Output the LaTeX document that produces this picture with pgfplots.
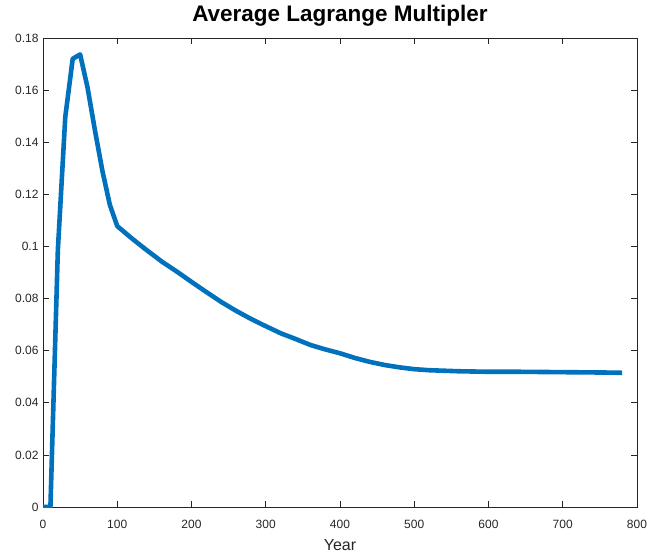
\documentclass[border=0pt]{standalone}
\usepackage{pgfplots}
\pgfplotsset{compat=1.18}
\usepackage{fontspec}
\setmainfont{Liberation Sans}
\definecolor{mblue}{RGB}{0,114,189}
\definecolor{axgray}{RGB}{38,38,38}
\begin{document}
\begin{tikzpicture}[x=1pt,y=1pt]
\begin{axis}[
  scale only axis,
  width=594pt, height=469pt,
  xmin=0, xmax=800, ymin=0, ymax=0.18,
  xtick={0,100,...,800},
  ytick={0,0.02,...,0.18},
  yticklabels={0,0.02,0.04,0.06,0.08,0.1,0.12,0.14,0.16,0.18},
  scaled y ticks=false,
  tick align=inside,
  major tick length=6pt,
  axis line style={axgray, line width=0.7pt},
  tick style={axgray, line width=0.7pt},
  tick label style={font=\fontsize{12}{14}\selectfont, text=axgray},
  xticklabel style={anchor=base, yshift=-21pt},
  yticklabel style={xshift=-1pt},
  /pgf/number format/assume math mode=true,
  title={\textbf{Average Lagrange Multipler}},
  title style={font=\fontsize{22.5}{26}\selectfont, at={(0.5,1)}, anchor=base, yshift=10.3pt},
  xlabel={Year},
  xlabel style={font=\fontsize{16}{18}\selectfont, text=axgray, at={(0.5,0)}, anchor=base, yshift=-43pt},
]
\addplot[mblue, line width=4.6pt, line join=round] coordinates {
(0,0) (10,0) (20,0.0986) (30,0.1497) (40,0.1720) (50,0.1737) (60,0.1610)
(70,0.1445) (80,0.1290) (90,0.1160) (100,0.1078) (120,0.1030) (140,0.0985)
(160,0.0942) (180,0.0904) (200,0.0864) (220,0.0825) (240,0.0787) (260,0.0753)
(280,0.0722) (300,0.0694) (320,0.0667) (340,0.0645) (360,0.0622) (380,0.0605)
(400,0.0590) (420,0.0572) (440,0.0557) (460,0.0545) (480,0.0536) (500,0.0529)
(520,0.0525) (540,0.0523) (560,0.0521) (600,0.0519) (640,0.0519) (680,0.0518)
(720,0.0517) (760,0.0516) (780,0.0515)
};
\end{axis}
\pgfresetboundingbox
\path[use as bounding box] ([xshift=-43pt,yshift=-45pt]current axis.south west) rectangle ([xshift=14pt,yshift=38pt]current axis.north east);
\end{tikzpicture}
\end{document}
